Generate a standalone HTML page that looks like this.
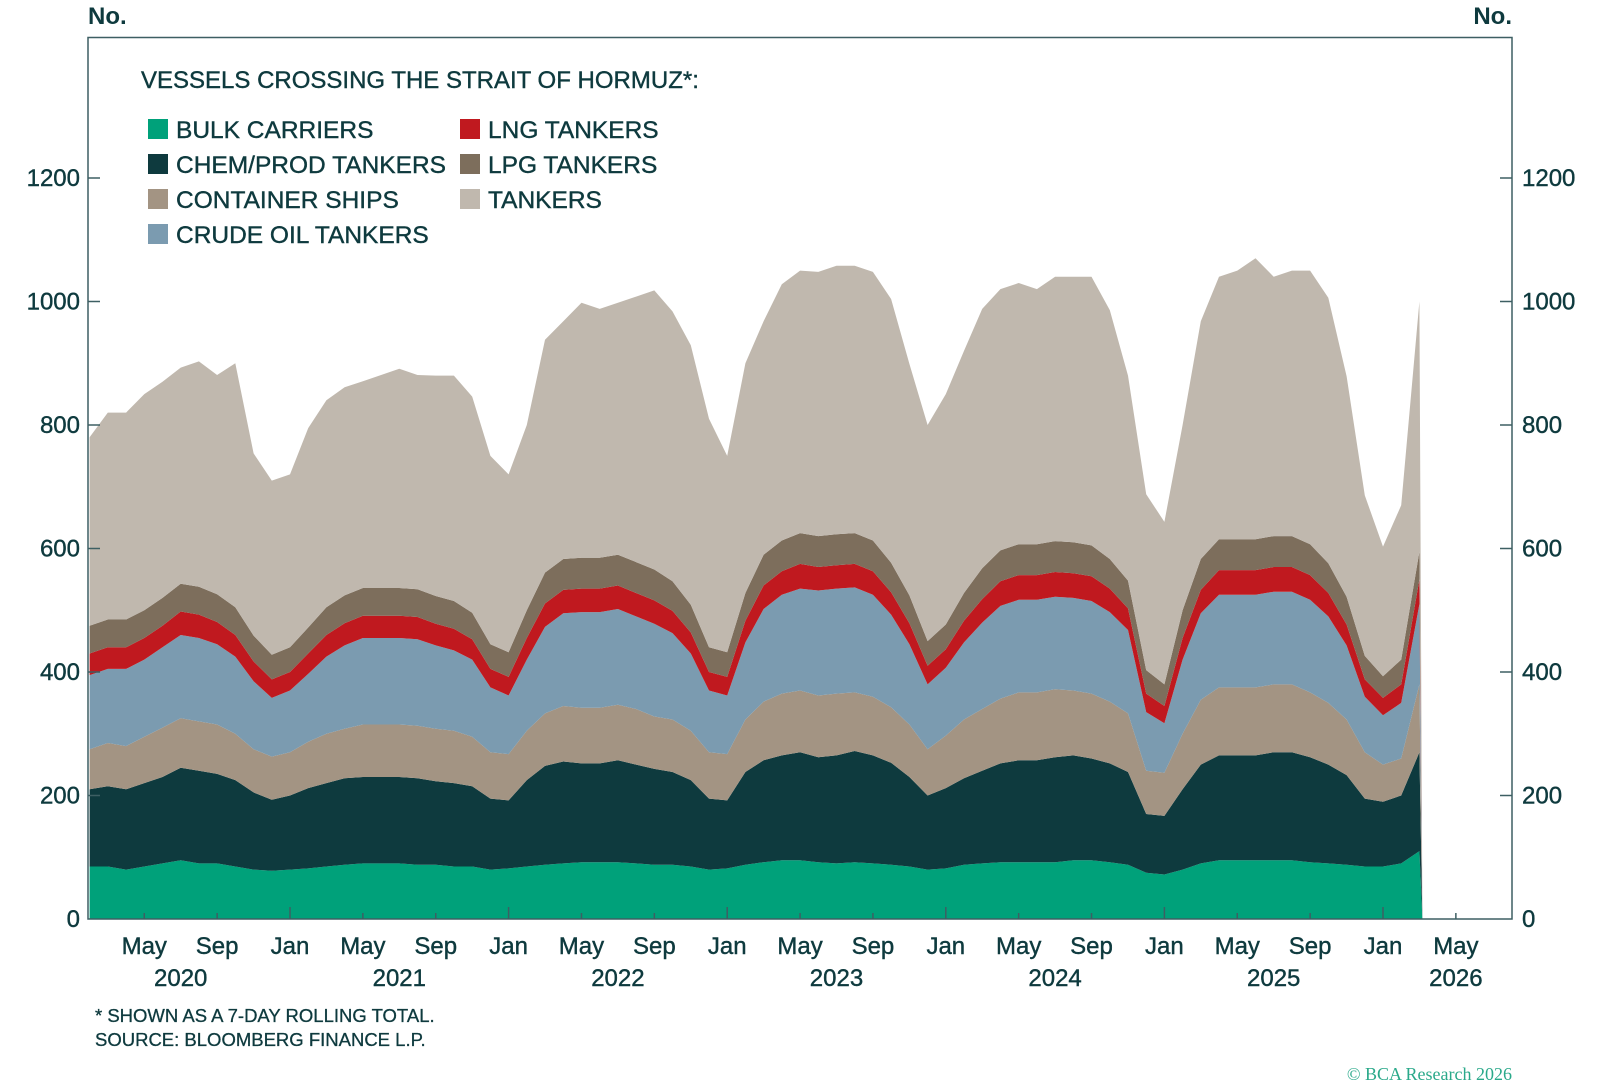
<!DOCTYPE html>
<html><head><meta charset="utf-8">
<style>
html,body{margin:0;padding:0;background:#fff;}
body{width:1600px;height:1080px;overflow:hidden;font-family:"Liberation Sans",sans-serif;color:#0e3a3e;}
svg text{font-family:"Liberation Sans",sans-serif;fill:#0e3a3e;}
</style></head>
<body>
<svg id="chart" width="1600" height="1080" viewBox="0 0 1600 1080" xmlns="http://www.w3.org/2000/svg">
<g id="areas"></g>
<rect x="88" y="37.5" width="1424" height="881.5" fill="none" stroke="#3d5f63" stroke-width="1.5"/>
<g id="axes"></g>
<text x="88" y="24" font-size="24" font-weight="bold">No.</text>
<text x="1512" y="24" font-size="24" font-weight="bold" text-anchor="end">No.</text>
<text x="141" y="88" font-size="24" stroke="#0e3a3e" stroke-width="0.4">VESSELS CROSSING THE STRAIT OF HORMUZ*:</text>
<g id="legend"></g>
<text x="95" y="1022" font-size="18.5" stroke="#0e3a3e" stroke-width="0.3">* SHOWN AS A 7-DAY ROLLING TOTAL.</text>
<text x="95" y="1046" font-size="18.5" stroke="#0e3a3e" stroke-width="0.3">SOURCE: BLOOMBERG FINANCE L.P.</text>
<text x="1512" y="1080" font-size="18" text-anchor="end" style="font-family:'Liberation Serif',serif;fill:#2aa98a">© BCA Research 2026</text>
</svg>
<script>
// Monthly data, Feb 2020 .. Mar 2026 (7-day rolling totals, approximate)
const startYear = 2020, startMonth = 2;
const bulk = [85,85,80,85,90,95,90,90,85,80,78, 80,82,85,88,90,90,90,88,88,85,85,80, 82,85,88,90,92,92,92,90,88,88,85,80, 82,88,92,95,95,92,90,92,90,88,85,80, 82,88,90,92,92,92,92,95,95,92,88,75, 72,80,90,95,95,95,95,95,92,90,88,85, 85,90,110];
const chem = [125,130,130,135,140,150,150,145,140,125,115, 120,130,135,140,140,140,140,140,135,135,130,115, 110,140,160,165,160,160,165,160,155,150,140,115, 110,150,165,170,175,170,175,180,175,165,145,120, 130,140,150,160,165,165,170,170,165,160,150,95, 95,130,160,170,170,170,175,175,170,160,145,110, 105,110,160];
const container = [65,70,70,75,80,80,80,80,75,70,70, 70,75,80,80,85,85,85,85,85,85,80,75, 75,80,85,90,90,90,90,90,85,85,80,75, 75,85,95,100,100,100,100,95,95,90,85,75, 85,95,100,105,110,110,110,105,105,100,95,70, 70,90,105,110,110,110,110,110,105,100,90,75, 60,60,110];
const crude = [120,120,125,125,130,135,135,130,125,110,95, 100,110,125,135,140,140,140,140,135,130,125,105, 95,115,140,150,155,155,155,150,150,140,125,100, 95,125,150,160,165,170,170,170,165,150,130,105, 110,125,140,150,150,150,150,150,150,145,135,95, 80,120,140,150,150,150,150,150,150,140,120,90, 80,90,130];
const lng = [35,35,35,35,35,38,38,36,35,32,30, 30,33,35,36,36,36,36,36,35,35,33,30, 30,35,38,38,38,38,38,38,38,36,34,30, 30,35,38,38,40,38,38,38,38,36,34,30, 30,35,38,40,40,40,40,40,40,38,35,30, 28,35,38,40,40,40,40,40,40,38,34,28, 28,30,40];
const lpg = [45,45,45,45,45,45,45,45,45,42,40, 40,42,45,45,45,45,45,45,45,45,43,40, 40,45,50,50,50,50,50,50,50,48,45,40, 40,45,50,50,50,50,50,50,50,48,45,40, 40,45,50,50,50,50,50,50,50,48,45,38, 35,45,50,50,50,50,50,50,50,48,45,38, 35,40,45];
const tankers = [305,335,335,350,350,350,365,355,395,295,282, 280,323,335,337,335,345,355,347,357,365,350,305, 288,300,377,385,413,403,408,430,452,437,420,370, 318,372,378,415,425,428,435,433,435,427,375,350, 373,392,420,423,423,413,428,430,435,403,332,285, 263,300,385,425,435,455,420,430,443,430,357,260, 210,250,405];
const seriesNames = ["bulk-carriers","chem-prod-tankers","container-ships","crude-oil-tankers","lng-tankers","lpg-tankers","tankers"];
const seriesLabels = ["BULK CARRIERS","CHEM/PROD TANKERS","CONTAINER SHIPS","CRUDE OIL TANKERS","LNG TANKERS","LPG TANKERS","TANKERS"];
const seriesColors = ["#00a17a","#0e3a3e","#a39483","#7b9bb0","#c0191f","#7d6e5c","#c0b8ae"];
const yTicks = [0,200,400,600,800,1000,1200];
const xMonthTicks = ["Jan","May","Sep"];
const yearLabels = [2020,2021,2022,2023,2024,2025,2026];

const NS = "http://www.w3.org/2000/svg";
const X0 = 290, PXY = 218.6; // Jan 2021 at 290 px, px per year
function xT(t){ return X0 + (t - 2021) * PXY; }
function yV(v){ return 919 - v * 0.6175; }
function tOf(i){ const m = startMonth - 1 + i; return startYear + m / 12; }

const series = [bulk, chem, container, crude, lng, lpg, tankers];
const n = bulk.length;
const areas = document.getElementById('areas');
let base = new Array(n).fill(0);
series.forEach((s, k) => {
  const top = base.map((b, i) => b + s[i]);
  const xEnd = xT(tOf(n - 1)) + 3;
  let d = "";
  for (let i = 0; i < n; i++) d += (i ? "L" : "M") + xT(tOf(i)).toFixed(1) + "," + yV(top[i]).toFixed(1);
  d += "L" + xEnd.toFixed(1) + "," + yV(0).toFixed(1);
  for (let i = n - 1; i >= 0; i--) d += "L" + xT(tOf(i)).toFixed(1) + "," + yV(base[i]).toFixed(1);
  d += "Z";
  const p = document.createElementNS(NS, "path");
  
  
  p.setAttribute("d", d);
  p.setAttribute("fill", seriesColors[k]);
  areas.appendChild(p);
  base = top;
});

const axes = document.getElementById('axes');
function txt(x, y, s, size, anchor, name){
  const t = document.createElementNS(NS, "text");
  
  
  t.setAttribute("x", x); t.setAttribute("y", y);
  t.setAttribute("font-size", size);
  t.setAttribute("text-anchor", anchor);
  t.setAttribute("stroke", "#0e3a3e");
  t.setAttribute("stroke-width", "0.4");
  t.textContent = s;
  axes.appendChild(t);
}
function line(x1, y1, x2, y2, name){
  const l = document.createElementNS(NS, "line");
  
  
  l.setAttribute("x1", x1); l.setAttribute("y1", y1);
  l.setAttribute("x2", x2); l.setAttribute("y2", y2);
  l.setAttribute("stroke", "#3d5f63"); l.setAttribute("stroke-width", "1.5");
  axes.appendChild(l);
}
yTicks.forEach(v => {
  const y = yV(v);
  if (v > 0) { line(88, y, 100, y, 'y-tick-left'); line(1500, y, 1512, y, 'y-tick-right'); }
  txt(80, y + 8, String(v), 24, "end", 'y-tick-label-left');
  txt(1522, y + 8, String(v), 24, "start", 'y-tick-label-right');
});
yearLabels.forEach(yr => {
  xMonthTicks.forEach((mn, j) => {
    const t = yr + (j * 4) / 12;
    const x = xT(t);
    if (x < 88 || x > 1512) return;
    line(x, 919, x, j === 0 ? 907 : 913, 'x-tick');
    txt(x, 954, mn, 24, "middle", 'x-tick-label');
  });
  const yx = yr === 2026 ? xT(2026 + 4/12) : xT(yr + 0.5);
  txt(yx, 986, String(yr), 24, "middle", 'x-year-label');
});

const legend = document.getElementById('legend');
const legendPos = [[148,129],[148,164],[148,199],[148,234],[460,129],[460,164],[460,199]];
seriesLabels.forEach((lab, k) => {
  const [x, y] = legendPos[k];
  const r = document.createElementNS(NS, "rect");
  
  
  r.setAttribute("x", x); r.setAttribute("y", y - 10);
  r.setAttribute("width", 20); r.setAttribute("height", 20);
  r.setAttribute("fill", seriesColors[k]);
  legend.appendChild(r);
  const t = document.createElementNS(NS, "text");
  
  
  t.setAttribute("x", x + 28); t.setAttribute("y", y + 9);
  t.setAttribute("font-size", 24.5);
  t.setAttribute("stroke", "#0e3a3e");
  t.setAttribute("stroke-width", "0.4");
  t.textContent = lab;
  legend.appendChild(t);
});
</script>
</body></html>
